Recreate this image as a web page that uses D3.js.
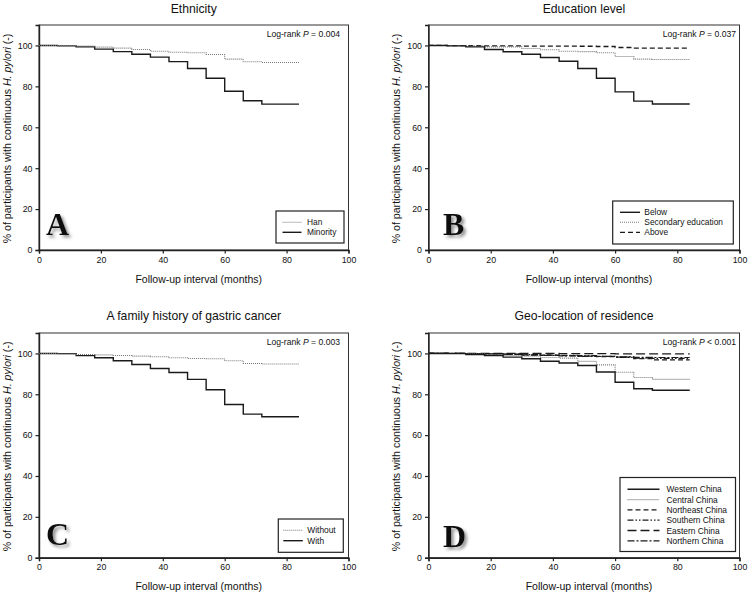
<!DOCTYPE html>
<html><head><meta charset="utf-8">
<script src="https://cdn.jsdelivr.net/npm/d3@7"></script>
<style>body{margin:0;background:#fff}svg{display:block;font-family:"Liberation Sans",Arial,sans-serif}</style>
</head><body>
<svg id="c" width="750" height="598"></svg>
<script>
const months = [0,6,12,18,24,30,36,42,48,54,60,66,72,84];
const xTicks = [0,20,40,60,80,100];
const yTicks = [0,20,40,60,80,100];

// Panel A – Ethnicity
const han      = [100,99.9,99.7,99.2,98.7,98.0,97.2,96.7,96.4,95.6,93.3,92.0,91.7,91.7];
const minority = [100,99.8,99.3,98.2,97.0,95.7,94.3,92.1,88.7,84.0,77.6,73.0,71.3,71.3];
// Panel B – Education level
const below     = [100,99.8,99.3,98.0,96.9,95.7,94.1,92.3,88.7,84.0,77.3,72.8,71.4,71.4];
const secondary = [100,99.9,99.7,99.3,99.3,98.5,97.9,97.2,97.0,96.4,94.6,93.3,93.1,93.1];
const above     = [100,99.9,99.9,99.8,99.8,99.7,99.7,99.7,99.6,99.5,99.0,98.7,98.7,98.7];
// Panel C – Family history
const without  = [100,99.8,99.5,99.3,99.0,98.7,98.4,97.9,97.5,97.4,96.4,95.1,94.8,94.8];
const withFH   = [100,99.9,98.9,97.9,96.4,94.6,92.6,90.7,87.3,82.2,75.0,70.3,69.0,69.0];
// Panel D – Geo-location
const western   = [100,99.9,99.5,98.9,98.2,97.4,96.2,95.3,94.1,90.9,85.9,82.7,82.0,82.0];
const central   = [100,100,99.8,99.5,99.0,98.6,98.0,97.7,96.1,94.4,90.8,88.2,87.3,87.3];
const northeast = [100,100,99.9,99.8,99.6,99.3,99.1,98.9,98.7,98.5,98.2,97.5,96.8,96.8];
const southern  = [100,100,99.9,99.8,99.7,99.4,99.2,99.0,98.9,98.6,98.1,97.7,97.6,97.6];
const eastern   = [100,100,100,100,100,100,100,99.9,99.9,99.9,99.8,99.8,99.8,99.8];
const northern  = [100,100,99.9,99.7,99.5,99.2,99.0,98.8,98.6,98.5,98.3,98.1,98.0,98.0];

const titles = ["Ethnicity","Education level","A family history of gastric cancer","Geo-location of residence"];
const letters = ["A","B","C","D"];
const pOps = ["=","=","=","<"];
const pVals = ["0.004","0.037","0.003","0.001"];

const STY = {
  solid:{dash:null,color:"#1a1a1a",w:1.4},
  dotted:{dash:"1,1",color:"#777",w:1.1},
  dashed:{dash:"5,3",color:"#1a1a1a",w:1.3},
  dashdotdot:{dash:"6,2,1.5,2,1.5,2",color:"#1a1a1a",w:1.2},
  longdash:{dash:"9,4",color:"#1a1a1a",w:1.3},
  dashdot:{dash:"7,2,2,2",color:"#1a1a1a",w:1.2}
};

const panels = [
  {x0:39,x1:348.5,y0:25,y1:250,series:[["Han",han,"dotted"],["Minority",minority,"solid"]],
   legend:{x:276,y:211,w:68,h:32,rowY:11.3,dy:10,lx0:6.5,lx1:25.5,tx:31},curveOrder:[1,0],
   letterX:46,letterY:235,pX:340,pY:37,yLabX:11,titleY:13,xLabY:283},
  {x0:428.5,x1:739.5,y0:25,y1:250,series:[["Below",below,"solid"],["Secondary education",secondary,"dotted"],["Above",above,"dashed"]],
   legend:{x:612.7,y:201,w:120.6,h:43,rowY:11.3,dy:10,lx0:7.3,lx1:27.3,tx:31.6},
   letterX:443,letterY:235,pX:736,pY:37,yLabX:400,titleY:13,xLabY:283},
  {x0:39,x1:348.5,y0:333,y1:557.7,series:[["Without",without,"dotted"],["With",withFH,"solid"]],
   legend:{x:278.3,y:519,w:65,h:33.3,rowY:11.3,dy:10.4,lx0:5,lx1:24.5,tx:29},
   letterX:46,letterY:545,pX:340,pY:345,yLabX:11,titleY:320,xLabY:590},
  {x0:428.5,x1:739.5,y0:333,y1:557.7,series:[["Western China",western,"solid"],["Central China",central,"dotted"],["Northeast China",northeast,"dashed"],["Southern China",southern,"dashdotdot"],["Eastern China",eastern,"longdash"],["Northern China",northern,"dashdot"]],
   legend:{x:620,y:477.5,w:115.5,h:74,rowY:11.8,dy:10.3,lx0:7.5,lx1:39.5,tx:46.5},
   letterX:443,letterY:547,pX:736,pY:345,yLabX:400,titleY:320,xLabY:590}
];

const svg = d3.select("#c");
const defs = svg.append("defs");
const f = defs.append("filter").attr("id","sh").attr("x","-20%").attr("y","-20%").attr("width","160%").attr("height","160%");
f.append("feDropShadow").attr("dx",2.5).attr("dy",2.5).attr("stdDeviation",1.6).attr("flood-color","#888").attr("flood-opacity",0.9);

panels.forEach((p,i)=>{
  const g = svg.append("g");
  const x = d3.scaleLinear().domain([0,100]).range([p.x0,p.x1]);
  const y = d3.scaleLinear().domain([0,110]).range([p.y1,p.y0]);
  const cx = (p.x0+p.x1)/2;

  // title
  g.append("text").attr("x",cx).attr("y",p.titleY).attr("text-anchor","middle")
    .attr("font-size",12.2).attr("fill","#111").text(titles[i]);

  // frame
  g.append("rect").attr("x",p.x0).attr("y",p.y0).attr("width",p.x1-p.x0).attr("height",p.y1-p.y0)
    .attr("fill","none").attr("stroke","#333").attr("stroke-width",1);

  // axes
  const xa = g.append("g").attr("transform",`translate(0,${p.y1})`)
    .call(d3.axisBottom(x).tickValues(xTicks).tickSizeOuter(0).tickSize(3.5).tickPadding(3));
  const ya = g.append("g").attr("transform",`translate(${p.x0},0)`)
    .call(d3.axisLeft(y).tickValues(yTicks).tickSizeOuter(0).tickSize(3.5).tickPadding(3));
  [xa,ya].forEach(a=>{
    a.select(".domain").attr("stroke","#222").attr("stroke-width",1.4);
    a.selectAll(".tick line").attr("stroke","#222").attr("stroke-width",1.2);
    a.selectAll(".tick text").attr("font-size",8.8).attr("fill","#111").attr("font-family","Liberation Sans, Arial, sans-serif");
  });

  // axis labels
  g.append("text").attr("x",cx+5).attr("y",p.xLabY).attr("text-anchor","middle")
    .attr("font-size",10.5).attr("fill","#111").text("Follow-up interval (months)");
  const yl = g.append("text").attr("transform",`translate(${p.yLabX},${(p.y0+p.y1)/2+1}) rotate(-90)`)
    .attr("text-anchor","middle").attr("font-size",10.6).attr("fill","#111");
  yl.append("tspan").text("% of participants with continuous ");
  yl.append("tspan").attr("font-style","italic").text("H. pylori");
  yl.append("tspan").text(" (-)");

  // log-rank
  const lr = g.append("text").attr("x",p.pX).attr("y",p.pY).attr("text-anchor","end")
    .attr("font-size",8.6).attr("fill","#111");
  lr.append("tspan").text("Log-rank ");
  lr.append("tspan").attr("font-style","italic").text("P");
  lr.append("tspan").text(` ${pOps[i]} ${pVals[i]}`);

  // curves
  const line = d3.line().x((d,k)=>x(months[k])).y(d=>y(d)).curve(d3.curveStepAfter);
  const order = p.curveOrder || p.series.map((s,k)=>k).reverse();
  order.forEach(k=>{
    const s = p.series[k], st = STY[s[2]];
    g.append("path").datum(s[1]).attr("d",line).attr("fill","none")
      .attr("stroke",st.color).attr("stroke-width",st.w)
      .attr("stroke-dasharray",st.dash);
  });

  // legend
  const L = p.legend;
  const lg = g.append("g").attr("transform",`translate(${L.x},${L.y})`);
  lg.append("rect").attr("width",L.w).attr("height",L.h).attr("fill","#fff").attr("stroke","#222").attr("stroke-width",1.2);
  p.series.forEach((s,k)=>{
    const st = STY[s[2]]; const yy = L.rowY + k*L.dy;
    lg.append("line").attr("x1",L.lx0).attr("x2",L.lx1).attr("y1",yy).attr("y2",yy)
      .attr("stroke",st.color).attr("stroke-width",st.w).attr("stroke-dasharray",st.dash);
    lg.append("text").attr("x",L.tx).attr("y",yy+3).attr("font-size",8.4).attr("fill","#111").text(s[0]);
  });

  // big letter
  g.append("text").attr("x",p.letterX).attr("y",p.letterY).attr("font-family","Liberation Serif, Times New Roman, serif")
    .attr("font-weight","bold").attr("font-size",32).attr("fill","#111").attr("filter","url(#sh)").text(letters[i]);
});
</script>
</body></html>
